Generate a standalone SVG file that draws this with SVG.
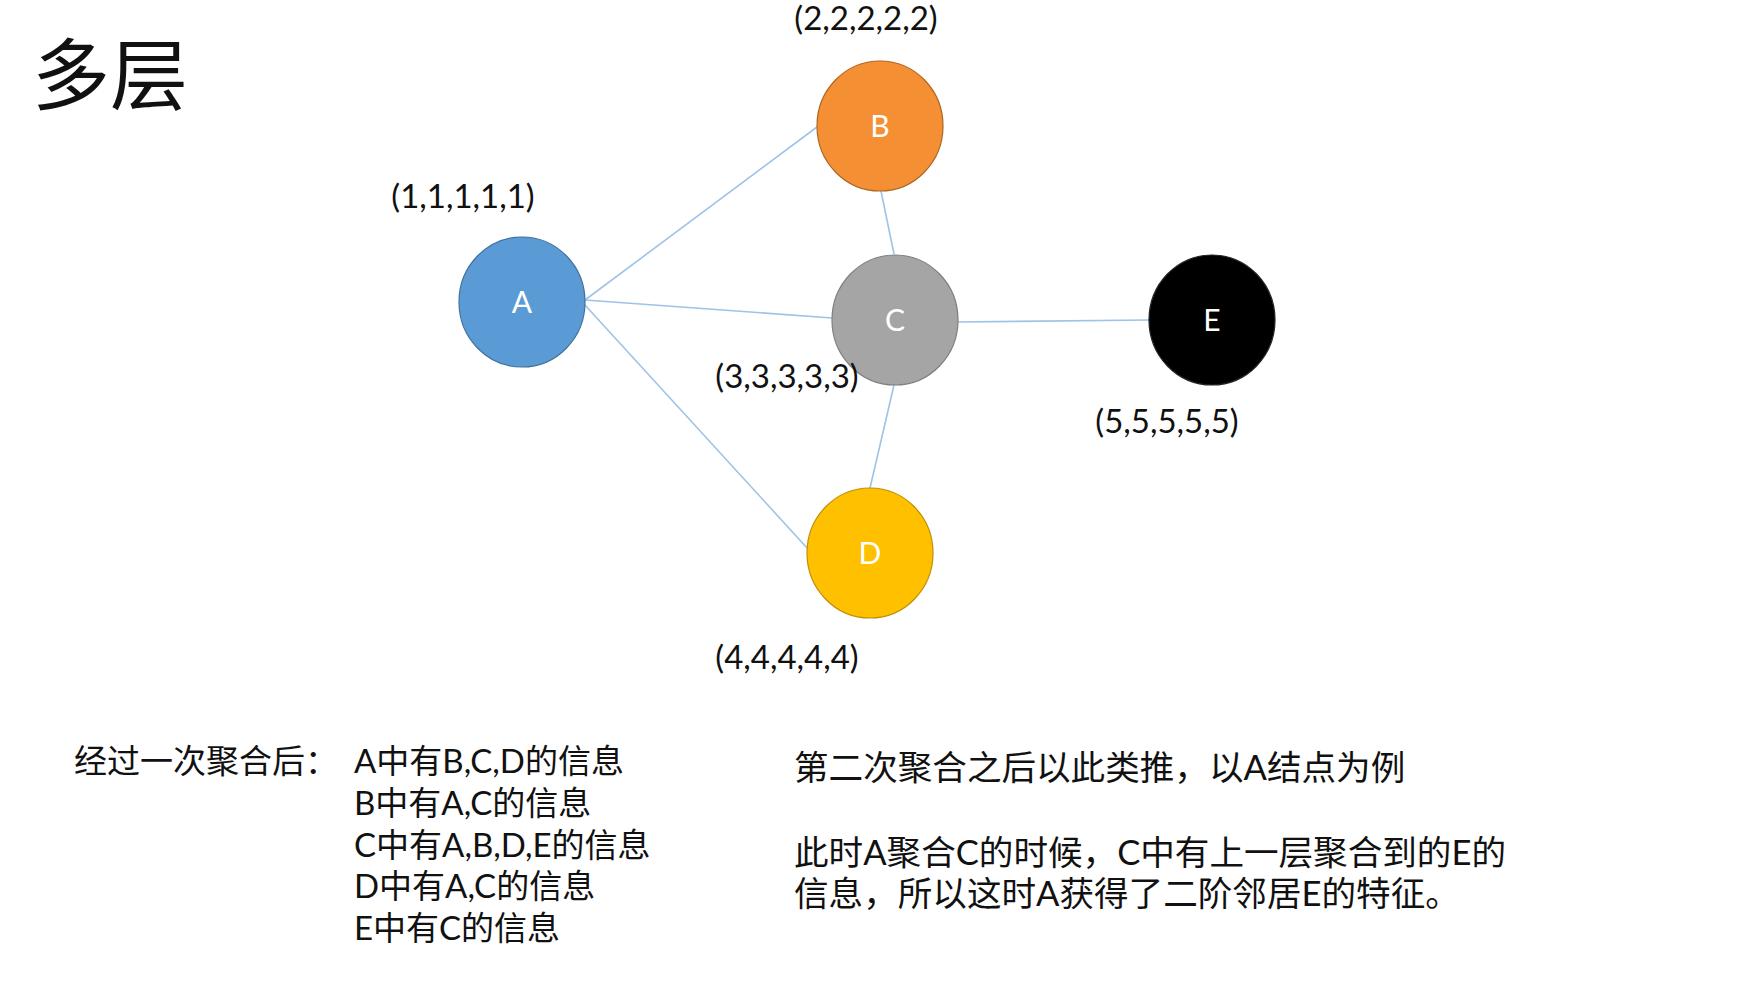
<svg xmlns="http://www.w3.org/2000/svg" width="1758" height="992" viewBox="0 0 1758 992">
<style>
.edge{stroke:#9DC3E6;stroke-width:1.6;fill:none}
.lbl{font-family:"Lato","Noto Sans CJK SC",sans-serif;font-size:33px;fill:#111;text-anchor:middle}
.nl{font-family:"Lato","Noto Sans CJK SC",sans-serif;font-size:30px;fill:#fff;text-anchor:middle}
.txt{font-family:"Lato","Noto Sans CJK SC",sans-serif;font-size:33px;fill:#111}
.txt2{font-family:"Lato","Noto Sans CJK SC",sans-serif;font-size:34.6px;fill:#111}
</style>
<rect width="1758" height="992" fill="#fff"/>
<text x="32" y="104" style="font-family:'Noto Sans CJK SC',sans-serif;font-size:78px;fill:#111">多层</text>
<g id="connectors">
<line class="edge" x1="585" y1="300" x2="817" y2="127"/>
<line class="edge" x1="585" y1="300" x2="832" y2="318"/>
<line class="edge" x1="584" y1="304" x2="808" y2="549"/>
<line class="edge" x1="881" y1="191" x2="894" y2="254"/>
<line class="edge" x1="957" y1="322" x2="1149" y2="320"/>
<line class="edge" x1="894" y1="385" x2="870" y2="488"/>
</g>
<g id="A">
<ellipse cx="522" cy="302" rx="63" ry="65" fill="#5B9BD5" stroke="#41719C" stroke-width="1.2"/>
<text class="nl" x="522" y="313">A</text>
<text class="lbl" x="463" y="208">(1,1,1,1,1)</text>
</g>
<g id="B">
<ellipse cx="880" cy="126" rx="63" ry="65" fill="#F48F34" stroke="#B0651E" stroke-width="1.2"/>
<text class="nl" x="880" y="137">B</text>
<text class="lbl" x="866" y="30">(2,2,2,2,2)</text>
</g>
<g id="C">
<ellipse cx="895" cy="320" rx="63" ry="65" fill="#A5A5A5" stroke="#7F7F7F" stroke-width="1.2"/>
<text class="nl" x="895" y="331">C</text>
<text class="lbl" x="787" y="388">(3,3,3,3,3)</text>
</g>
<g id="D">
<ellipse cx="870" cy="553" rx="63" ry="65" fill="#FFC000" stroke="#BF9000" stroke-width="1.2"/>
<text class="nl" x="870" y="564">D</text>
<text class="lbl" x="787" y="669">(4,4,4,4,4)</text>
</g>
<g id="E">
<ellipse cx="1212" cy="320" rx="63" ry="65" fill="#000" stroke="#222" stroke-width="1.2"/>
<text class="nl" x="1212" y="331">E</text>
<text class="lbl" x="1167" y="433">(5,5,5,5,5)</text>
</g>
<g id="notes-left">
<text class="txt" x="74" y="773">经过一次聚合后：</text>
<text class="txt" x="354" y="773">A中有B,C,D的信息</text>
<text class="txt" x="354" y="815">B中有A,C的信息</text>
<text class="txt" x="354" y="857">C中有A,B,D,E的信息</text>
<text class="txt" x="354" y="898">D中有A,C的信息</text>
<text class="txt" x="354" y="940">E中有C的信息</text>
</g>
<g id="notes-right">
<text class="txt2" x="794" y="780">第二次聚合之后以此类推，以A结点为例</text>
<text class="txt2" x="794" y="865">此时A聚合C的时候，C中有上一层聚合到的E的</text>
<text class="txt2" x="794" y="906">信息，所以这时A获得了二阶邻居E的特征。</text>
</g>
</svg>
